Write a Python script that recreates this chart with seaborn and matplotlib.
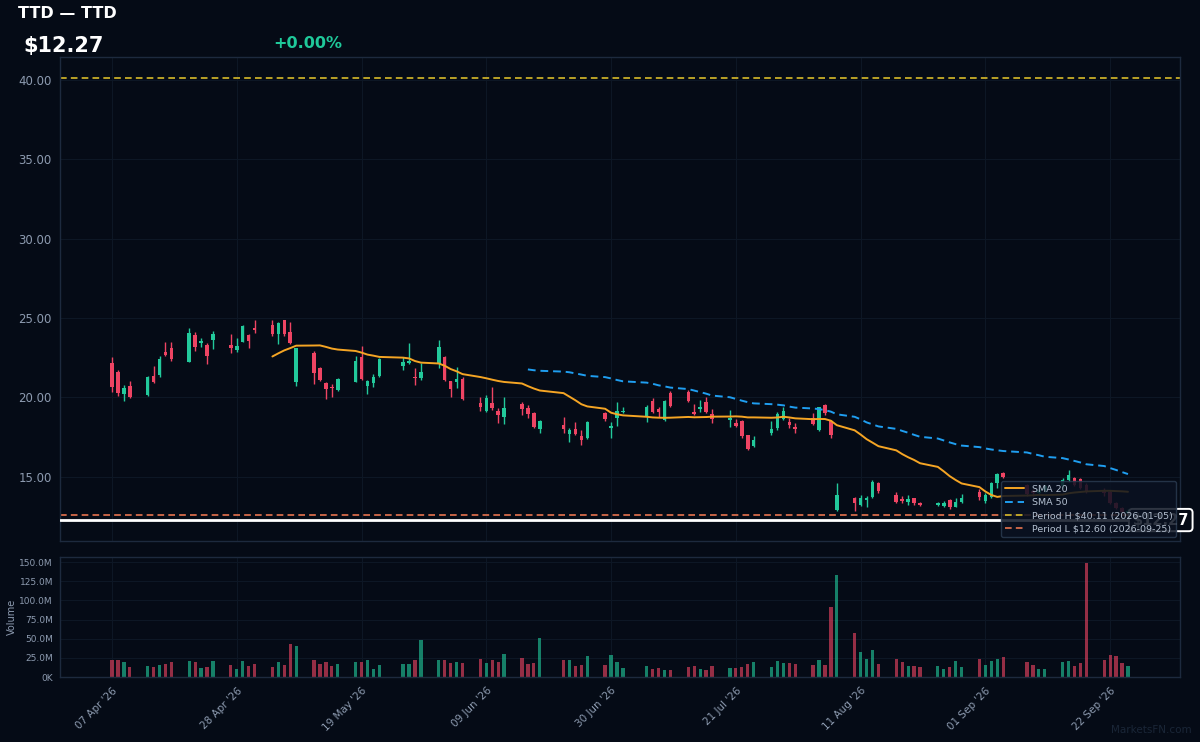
import pandas as pd
import numpy as np
import seaborn as sns
import matplotlib
matplotlib.use("Agg")
import matplotlib.pyplot as plt
import matplotlib.dates as mdates
from matplotlib.lines import Line2D
from matplotlib.ticker import FuncFormatter, FixedLocator
from matplotlib.transforms import blended_transform_factory

# trading days (US calendar) shown in the chart
holidays = ['2026-05-25', '2026-06-19', '2026-07-03', '2026-09-07']
dates = pd.bdate_range('2026-04-07', '2026-09-25', freq='C', holidays=holidays)

opens = [22.15, 21.58, 20.21, 20.72,
         20.15, 21.37, 21.41, 22.85, 23.14,
         22.25, 23.94, 23.41, 23.30, 23.62,
         23.30, 22.99, 23.51, 23.94, 24.35,
         24.56, 23.99, 24.87, 24.10, 20.99,
         22.82, 21.83, 20.88, 20.67, 20.46,
         20.99, 22.56, 20.74, 20.88, 21.35,
         22.00, 22.14, 21.30, 21.20,
         22.08, 22.56, 21.05, 20.99, 21.16,
         19.62, 19.14, 19.62, 19.16, 18.78,
         19.58, 19.31, 18.99, 18.00,
         18.26, 17.69, 18.00, 17.57, 17.42,
         18.99, 18.05, 18.68, 19.06,
         18.79, 19.80, 19.27, 18.58, 20.26,
         20.32, 19.10, 19.27, 19.73, 18.94,
         18.58, 18.37, 18.54, 17.63, 16.94,
         17.74, 18.05, 18.62, 18.47, 18.16,
         18.68, 17.95, 19.52, 18.48, 12.91,
         13.64, 13.22, 13.54, 13.71, 14.59,
         13.85, 13.58, 13.43, 13.64, 13.37,
         13.20, 13.16, 13.54, 13.12, 13.43,
         14.06, 13.50, 13.71, 14.59, 15.22,
         14.45, 14.10, 13.95, 14.15,
         14.40, 14.80, 14.90, 14.84, 14.48,
         14.17, 14.06, 13.33, 13.00, 12.70]
highs = [22.57, 21.73, 20.78, 21.05,
         21.35, 22.00, 22.61, 23.47, 23.47,
         24.35, 24.10, 23.77, 23.41, 24.21,
         23.98, 23.72, 24.56, 23.98, 24.88,
         24.88, 24.77, 24.87, 24.73, 23.13,
         22.92, 21.89, 20.99, 20.84, 21.20,
         22.61, 23.26, 21.09, 21.45, 22.46,
         22.56, 23.40, 21.83, 22.14,
         23.61, 22.63, 21.05, 21.93, 21.30,
         20.04, 20.15, 20.63, 19.31, 20.04,
         19.73, 19.52, 19.06, 18.57,
         18.78, 18.05, 18.47, 17.94, 18.51,
         19.10, 18.47, 19.73, 19.41,
         19.52, 19.94, 19.38, 19.84, 20.43,
         20.47, 19.57, 19.84, 20.01, 19.25,
         19.21, 18.62, 18.58, 17.63, 17.57,
         18.54, 19.10, 19.42, 18.68, 18.37,
         19.00, 19.38, 19.59, 18.58, 14.63,
         13.75, 13.85, 13.79, 14.80, 14.69,
         14.06, 13.79, 13.85, 13.69, 13.42,
         13.42, 13.48, 13.60, 13.64, 13.92,
         14.21, 14.00, 14.69, 15.26, 15.32,
         14.55, 14.25, 14.30, 14.50,
         14.90, 15.43, 15.00, 14.95, 14.60,
         14.30, 14.15, 13.40, 13.10, 12.95]
lows = [20.36, 20.09, 19.79, 19.94,
        20.09, 20.89, 21.31, 22.63, 22.30,
        22.21, 22.95, 23.20, 22.11, 23.03,
        22.82, 22.88, 23.47, 23.14, 24.04,
        23.87, 23.34, 23.89, 23.34, 20.72,
        20.84, 21.05, 19.88, 20.04, 20.40,
        20.95, 21.09, 20.19, 20.63, 21.30,
        21.72, 22.08, 20.78, 21.09,
        21.83, 21.03, 20.04, 20.57, 19.83,
        19.14, 19.10, 19.20, 18.36, 18.30,
        18.89, 18.72, 18.09, 17.73,
        17.73, 17.21, 17.63, 17.00, 17.38,
        18.51, 17.46, 18.22, 18.99,
        18.47, 19.00, 18.79, 18.54, 19.38,
        19.73, 18.89, 19.10, 19.00, 18.37,
        18.16, 18.12, 17.42, 16.69, 16.90,
        17.63, 17.95, 18.58, 18.05, 17.74,
        18.27, 17.89, 18.90, 17.42, 12.87,
        12.87, 13.16, 13.08, 13.64, 14.00,
        13.33, 13.33, 13.22, 13.20, 13.16,
        13.16, 13.12, 12.95, 13.08, 13.37,
        13.54, 13.37, 13.64, 14.27, 14.90,
        13.80, 13.80, 13.85, 14.05,
        14.30, 14.69, 14.40, 14.20, 13.95,
        13.80, 13.25, 12.95, 12.70, 12.60]
closes = [20.68, 20.26, 20.61, 20.00,
          21.31, 20.95, 22.40, 22.70, 22.40,
          24.08, 23.20, 23.58, 22.63, 24.00,
          23.14, 23.26, 24.50, 23.58, 24.25,
          24.00, 24.66, 23.99, 23.45, 23.09,
          21.51, 21.09, 20.53, 20.57, 21.16,
          22.29, 21.16, 21.05, 21.30, 22.42,
          22.21, 22.29, 21.20, 21.58,
          23.19, 21.09, 20.53, 21.16, 19.90,
          19.41, 19.94, 19.31, 18.89, 19.35,
          19.25, 18.95, 18.15, 18.53,
          18.00, 17.94, 17.69, 17.31, 18.43,
          18.64, 18.20, 19.14, 19.14,
          19.38, 19.10, 19.06, 19.80, 19.46,
          19.80, 18.94, 19.42, 19.10, 18.62,
          18.68, 18.22, 17.57, 16.75, 17.32,
          17.99, 18.96, 19.15, 18.26, 17.99,
          18.31, 19.38, 19.00, 17.63, 13.85,
          13.33, 13.64, 13.64, 14.69, 14.13,
          13.43, 13.50, 13.60, 13.33, 13.20,
          13.37, 13.33, 13.08, 13.43, 13.64,
          13.71, 13.85, 14.63, 15.18, 14.97,
          13.90, 13.95, 14.15, 14.40,
          14.80, 15.10, 14.48, 14.27, 14.06,
          13.96, 13.33, 13.01, 12.78, 12.85]
volumes_m = [22.5, 21.6, 19.5, 13.0,
             14.3, 12.5, 15.6, 17.3, 19.5,
             20.8, 19.5, 11.7, 13.0, 20.8,
             15.6, 10.8, 20.3, 14.7, 16.9,
             12.5, 19.5, 15.6, 42.8, 41.1,
             21.6, 17.3, 19.0, 13.8, 17.3,
             19.9, 19.9, 21.6, 10.4, 16.0,
             16.9, 17.3, 21.6, 48.4,
             22.5, 21.6, 17.7, 19.5, 18.2,
             23.8, 18.6, 21.6, 19.5, 30.3,
             24.6, 17.3, 18.6, 50.6,
             21.6, 22.5, 14.3, 15.1, 27.2,
             16.0, 29.0, 19.0, 11.2,
             13.8, 10.8, 12.1, 9.1, 8.6,
             12.5, 13.8, 10.8, 8.6, 13.8,
             11.7, 12.1, 12.5, 17.3, 19.9,
             13.0, 20.8, 18.6, 18.2, 16.4,
             15.1, 21.6, 16.0, 91.7, 133.6,
             57.5, 32.0, 23.3, 34.6, 17.3,
             23.8, 19.5, 14.7, 14.3, 13.4,
             14.3, 10.8, 13.4, 21.2, 13.0,
             23.8, 16.0, 21.2, 23.3, 25.5,
             19.9, 16.0, 10.4, 10.8,
             19.5, 21.2, 14.7, 18.2, 149.2,
             22.0, 29.0, 27.7, 18.6, 14.3]

ticker = "TTD"
last_price = 12.27
change_pct = 0.00
period_high, period_high_date = 40.11, "2026-01-05"
period_low, period_low_date = 12.60, "2026-09-25"
tick_dates = pd.date_range('2026-04-07', periods=9, freq='21D')

BG = '#050b16'
SPINE = '#1d2a3e'
GRID = '#0e1826'
TXT = '#8d9bb0'
UP = '#22c99b'
DOWN = '#ee4463'

sns.set_theme(style="dark", rc={
    'figure.facecolor': BG, 'axes.facecolor': BG, 'axes.edgecolor': SPINE,
    'text.color': 'white', 'xtick.color': TXT, 'ytick.color': TXT,
    'axes.labelcolor': TXT, 'grid.color': GRID,
})
plt.rcParams['font.family'] = ['DejaVu Sans']

df = pd.DataFrame({'date': dates, 'open': opens, 'high': highs, 'low': lows,
                   'close': closes, 'volume': np.array(volumes_m) * 1e6})
df['x'] = mdates.date2num(df['date'])
df['up'] = df['close'] >= df['open']
df['color'] = np.where(df['up'], UP, DOWN)
df['sma20'] = df['close'].rolling(20).mean()
df['sma50'] = df['close'].rolling(50).mean()

fig = plt.figure(figsize=(12, 7.42), dpi=100)
ax = fig.add_axes([0.05, 0.2709, 0.9333, 0.6523])
axv = fig.add_axes([0.05, 0.0876, 0.9333, 0.1617], sharex=ax)

# candles
ax.vlines(df['x'], df['low'], df['high'], colors=df['color'], lw=1, zorder=3)
body_lo = np.minimum(df['open'], df['close'])
body_h = np.maximum((df['close'] - df['open']).abs(), 0.05)
ax.bar(df['x'], body_h, bottom=body_lo, width=0.6, color=df['color'], lw=0, zorder=4)

sns.lineplot(data=df.dropna(subset=['sma20']), x='x', y='sma20', ax=ax,
             color='#f5a524', lw=1.4, zorder=5)
sns.lineplot(data=df.dropna(subset=['sma50']), x='x', y='sma50', ax=ax,
             color='#1f9ef0', lw=1.4, linestyle=(0, (4, 2.5)), zorder=5)

ax.axhline(period_high, color='#d8bb2a', lw=1.2, ls=(0, (4, 2.5)), zorder=2)
ax.axhline(period_low, color='#e8744f', lw=1.2, ls=(0, (4, 2.5)), zorder=2)
ax.axhline(last_price, color='white', lw=2, zorder=6)

trans = blended_transform_factory(ax.transAxes, ax.transData)
ax.text(1.008, last_price, f"${last_price:.2f}", transform=trans, ha='right', va='center',
        fontsize=10.5, fontweight='bold', color='white', zorder=7, clip_on=False,
        bbox=dict(boxstyle='round,pad=0.25', fc=BG, ec='white', lw=1.4))

handles = [
    Line2D([], [], color='#f5a524', lw=1.4),
    Line2D([], [], color='#1f9ef0', lw=1.4, ls=(0, (4, 2.5))),
    Line2D([], [], color='#d8bb2a', lw=1.2, ls=(0, (4, 2.5))),
    Line2D([], [], color='#e8744f', lw=1.2, ls=(0, (4, 2.5))),
]
labels = ['SMA 20', 'SMA 50',
          f'Period H ${period_high:.2f} ({period_high_date})',
          f'Period L ${period_low:.2f} ({period_low_date})']
leg = ax.legend(handles, labels, loc='lower right', fontsize=6.8, frameon=True,
                facecolor='#0a1221', edgecolor='#2a3a50', framealpha=0.85,
                labelcolor='#b4c0d0', borderaxespad=0.4, handlelength=2.0,
                labelspacing=0.45)
leg.set_zorder(10)

ax.set_xlim(df['x'].iloc[0] - 8.75, df['x'].iloc[-1] + 8.75)
ax.set_ylim(10.95, 41.45)
ax.set_yticks([15, 20, 25, 30, 35, 40])
ax.yaxis.set_major_formatter(FuncFormatter(lambda v, p: f"{v:.2f}"))
ax.set_xlabel('')
ax.set_ylabel('')
ax.tick_params(axis='y', labelsize=8.5, length=0, pad=6)
ax.tick_params(axis='x', labelbottom=False, length=0)
ax.grid(True, color=GRID, lw=0.7)

# volume
axv.bar(df['x'], df['volume'], width=0.55, color=df['color'], alpha=0.62, lw=0)
axv.set_ylim(0, 156.6e6)
axv.set_yticks(np.arange(0, 151e6, 25e6))
axv.yaxis.set_major_formatter(FuncFormatter(
    lambda v, p: f"{v / 1e6:.1f}M" if v >= 1e6 else f"{v / 1e3:.0f}K"))
axv.set_ylabel('Volume', fontsize=7, labelpad=2)
axv.xaxis.set_major_locator(FixedLocator(mdates.date2num(tick_dates)))
axv.set_xticklabels([d.strftime("%d %b '%y") for d in tick_dates])
for lab in axv.get_xticklabels():
    lab.set_rotation(45)
    lab.set_ha('right')
    lab.set_rotation_mode('anchor')
axv.tick_params(axis='x', labelsize=7.5, length=3, color=TXT, pad=3)
axv.tick_params(axis='y', labelsize=6.5, length=3, color=TXT, pad=2)
axv.grid(True, color=GRID, lw=0.7)

for a in (ax, axv):
    for s in a.spines.values():
        s.set_color(SPINE)
        s.set_linewidth(1)

fig.text(18 / 1200, 1 - 13 / 742, f"{ticker} — {ticker}", ha='left', va='center',
         fontsize=11.5, fontweight='bold', color='white')
fig.text(23 / 1200, 1 - 46 / 742, f"${last_price:.2f}", ha='left', va='center',
         fontsize=15, fontweight='bold', color='white')
fig.text(273 / 1200, 1 - 44 / 742, f"+{change_pct:.2f}%", ha='left', va='center',
         fontsize=11.5, fontweight='bold', color='#1fc99a')
fig.text(1192 / 1200, 1 - 730 / 742, "MarketsFN.com", ha='right', va='center',
         fontsize=7.5, color='#1a2637')

fig.savefig('out.png', dpi=100, facecolor=BG)
